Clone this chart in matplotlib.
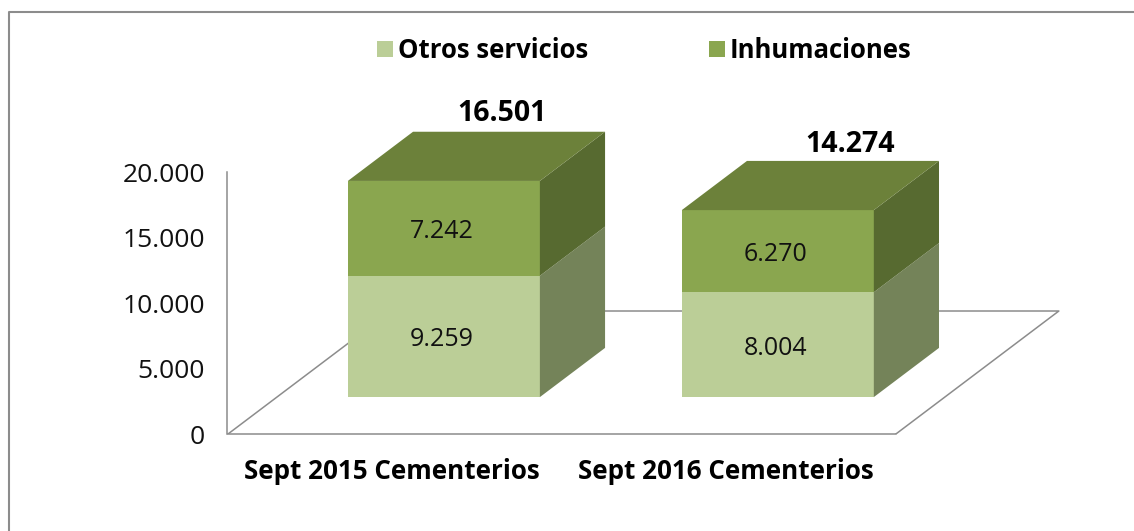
import matplotlib
matplotlib.use("Agg")
import matplotlib.pyplot as plt
from matplotlib.lines import Line2D

categories = ["Sept 2015 Cementerios", "Sept 2016 Cementerios"]
otros_servicios = [9259, 8004]
inhumaciones = [7242, 6270]
totales = [16501, 14274]
otros_labels = ["9.259", "8.004"]
inhumaciones_labels = ["7.242", "6.270"]
total_labels = ["16.501", "14.274"]
y_ticks = [0, 5000, 10000, 15000, 20000]
y_tick_labels = ["0", "5.000", "10.000", "15.000", "20.000"]

FONT = "Open Sans"
GRAY = "#8c8c8c"
LIGHT = "#bbce97"
LIGHT_SIDE = "#748359"
MID = "#8aa64f"
MID_SIDE = "#576a30"
TOP = "#6c813a"

# oblique projection of the depth axis
DEPTH_X = 0.488
DEPTH_Y = 9389
BAR_WIDTH = 0.575
BAR_D0, BAR_D1 = 0.30, 0.70


def proj(x, v, d):
    return x + d * DEPTH_X, v + d * DEPTH_Y


def face(ax, pts, color, label=None):
    xs, ys = zip(*[proj(*p) for p in pts])
    ax.fill(xs, ys, color=color, lw=0, zorder=3, clip_on=False, label=label)


def block(ax, x, v0, v1, front, side, top=None):
    l, r = x - BAR_WIDTH / 2, x + BAR_WIDTH / 2
    face(ax, [(l, v0, BAR_D0), (r, v0, BAR_D0), (r, v1, BAR_D0), (l, v1, BAR_D0)], front)
    face(ax, [(r, v0, BAR_D0), (r, v0, BAR_D1), (r, v1, BAR_D1), (r, v1, BAR_D0)], side)
    if top:
        face(ax, [(l, v1, BAR_D0), (r, v1, BAR_D0), (r, v1, BAR_D1), (l, v1, BAR_D1)], top)


fig = plt.figure(figsize=(11.34, 5.31), dpi=100)
ax = fig.add_axes([227 / 1134, 97 / 531, 907 / 1134, 434 / 531])
ax.set_xlim(-0.503, 2.213)
ax.set_ylim(0, 33130)
ax.patch.set_alpha(0)

# floor outline
fx, fy = zip(*[proj(*p) for p in [(1.5, 0, 0), (1.5, 0, 1), (-0.5, 0, 1), (-0.5, 0, 0)]])
ax.plot(fx, fy, color=GRAY, lw=1.1, zorder=1)

for i in range(len(categories)):
    block(ax, i, 0, otros_servicios[i], LIGHT, LIGHT_SIDE)
    block(ax, i, otros_servicios[i], totales[i], MID, MID_SIDE, TOP)

    xy = proj(i, otros_servicios[i] / 2, BAR_D0)
    ax.annotate(otros_labels[i], xy, xytext=(-2, [-3, -4][i]), textcoords="offset pixels",
                ha="center", va="center", fontsize=18, family=FONT, color="#111111", zorder=4)
    xy = proj(i, otros_servicios[i] + inhumaciones[i] / 2, BAR_D0)
    ax.annotate(inhumaciones_labels[i], xy, xytext=(-2, -3), textcoords="offset pixels",
                ha="center", va="center", fontsize=18, family=FONT, color="#111111", zorder=4)

    xy = proj(i, totales[i], BAR_D1)
    ax.annotate(total_labels[i], xy, xytext=([-7, 7][i], [18, 16][i]), textcoords="offset pixels",
                ha="center", va="center", fontsize=20.5, family=FONT, weight="bold",
                annotation_clip=False, zorder=4)

for s in ["top", "right"]:
    ax.spines[s].set_visible(False)
ax.spines["left"].set_bounds(0, 20000)
ax.spines["bottom"].set_bounds(-0.5, 1.5)
ax.spines["left"].set_color(GRAY)
ax.spines["bottom"].set_color(GRAY)
ax.spines["left"].set_linewidth(1.1)
ax.spines["bottom"].set_linewidth(1.1)

ax.set_yticks(y_ticks)
ax.set_yticklabels(y_tick_labels, fontsize=19, family=FONT, color="#111111")
ax.set_xticks([i - 0.01 for i in range(len(categories))])
ax.set_xticklabels(categories, fontsize=18.7, family=FONT, weight="bold")
ax.tick_params(axis="y", length=0, pad=16)
ax.tick_params(axis="x", length=0, pad=17)

handles = [Line2D([], [], ls="", marker="s", ms=11, mew=0, color=LIGHT),
           Line2D([], [], ls="", marker="s", ms=11, mew=0, color=MID)]
ax.legend(handles, ["Otros servicios", "Inhumaciones"], ncol=2, frameon=False,
          loc="center", bbox_to_anchor=(643 / 1134, 1 - 50 / 531), bbox_transform=fig.transFigure,
          prop={"family": FONT, "weight": "bold", "size": 18.5}, handlelength=0.8,
          handletextpad=0.1, columnspacing=4.6, borderpad=0)

# frame: only left and top edges show
fig.add_artist(Line2D([8.5 / 1134, 8.5 / 1134, 1], [0, 1 - 12 / 531, 1 - 12 / 531],
                      color=GRAY, lw=1.5, transform=fig.transFigure))

fig.savefig("out.png", dpi=100)
